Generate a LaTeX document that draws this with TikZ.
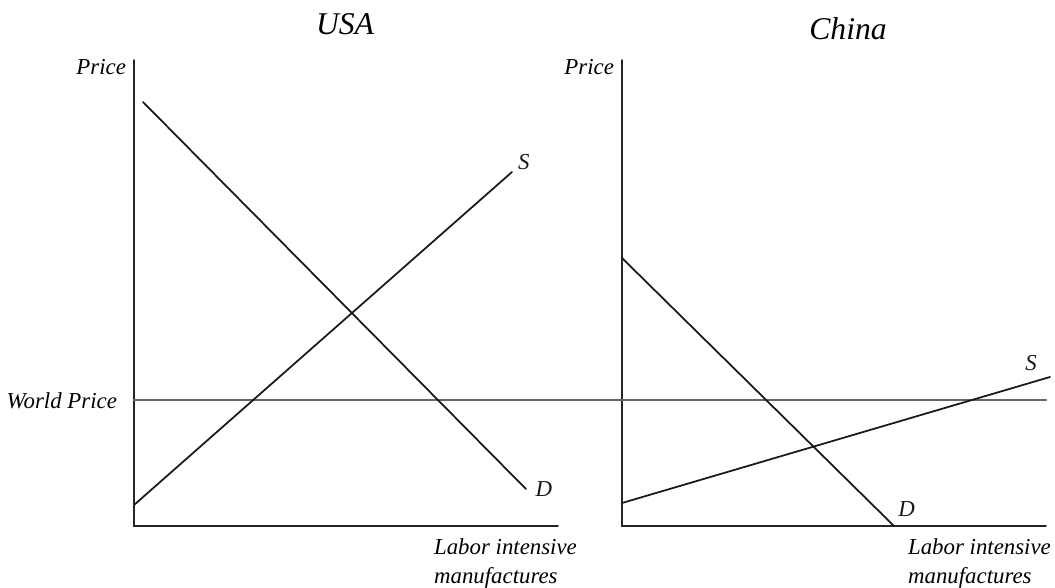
\documentclass[tikz,border=0pt]{standalone}
\usepackage{fontspec}
\setmainfont{Liberation Serif}
\usetikzlibrary{calc}
\usetikzlibrary{positioning}

\begin{document}
\begin{tikzpicture}[x=0.02cm,y=-0.02cm,line cap=round]
  \tikzstyle{axis}=[line width=1pt, black!85]
  \tikzstyle{curve}=[line width=1pt, black!90]
  \tikzstyle{world}=[line width=1.4pt, black!60]
  \tikzstyle{lbl}=[font=\itshape\fontsize{13}{16}\selectfont, inner sep=1pt]
  \tikzstyle{title}=[font=\itshape\fontsize{18}{22}\selectfont]
  \useasboundingbox (0,0) rectangle (1055,588);
  % titles
  \node[title] (usa) at (345,24) {USA};
  \node[title] (china) at (848,29) {China};
  % axes
  \foreach \ox/\xend/\xq/\name in {134/558/432/L, 622/1046/906/R} {
    \coordinate (top\name) at (\ox,60);
    \coordinate (orig\name) at (\ox,526);
    \coordinate (end\name) at (\xend,526);
    \draw[axis] (top\name) -- (orig\name) -- (end\name);
    \node[lbl, anchor=east] (price\name) at ($(\ox,67)+(-6,0)$) {Price};
    \node[lbl, anchor=north west, align=left] (qty\name) at (\xq,537) {Labor intensive\\manufactures};
  }
  % world price
  \coordinate (wpL) at (134,400);
  \coordinate (wpR) at (1046,400);
  \draw[world] (wpL) -- (wpR);
  \node[lbl, anchor=east] (wp) at (119,401) {World Price};
  % USA
  \coordinate (dUa) at (143,102);
  \coordinate (dUb) at (526,489);
  \coordinate (sUa) at (134,505);
  \coordinate (sUb) at (512,172);
  \draw[curve] (dUa) -- (dUb) node[lbl, right=4pt] (dU) {D};
  \draw[curve] (sUa) -- (sUb) node[lbl, above right=0pt and 2pt] (sU) {S};
  % China
  \coordinate (dCa) at (622,258);
  \coordinate (dCb) at (894,526);
  \coordinate (sCa) at (622,503);
  \coordinate (sCb) at (1050,377);
  \draw[curve] (dCa) -- (dCb) node[lbl, above right=4pt and 1pt] (dC) {D};
  \draw[curve] (sCa) -- (sCb) node[lbl, above left=2pt and 6pt] (sC) {S};
\end{tikzpicture}
\end{document}
